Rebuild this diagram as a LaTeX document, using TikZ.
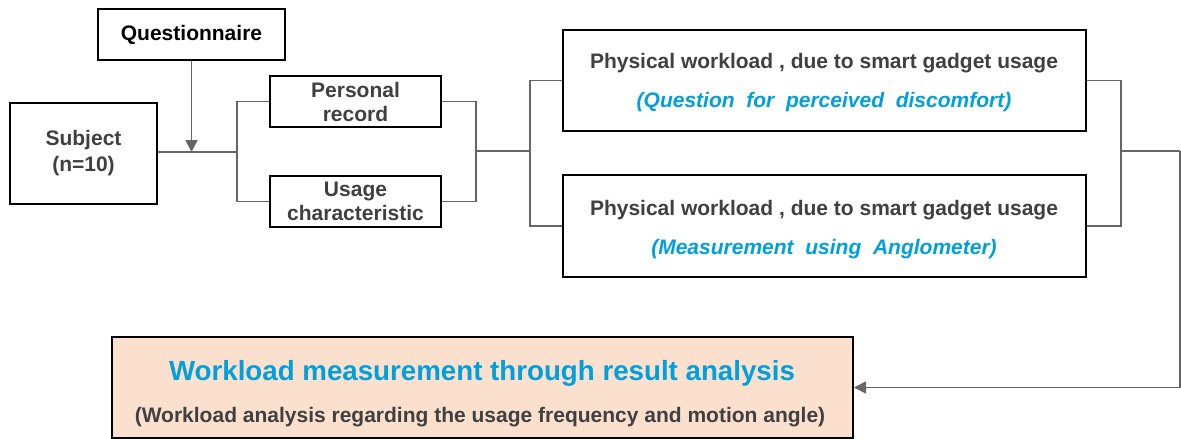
\documentclass[tikz,border=0pt]{standalone}
\usepackage{fontspec}
\setmainfont{Liberation Sans}
\usetikzlibrary{arrows.meta}
\definecolor{txtgray}{HTML}{404040}
\definecolor{linegray}{HTML}{666666}
\definecolor{ablue}{HTML}{00A0DC}
\definecolor{peach}{HTML}{FCE0CE}
\tikzset{
  box/.style={draw=black, line width=2pt, fill=white, align=center, inner sep=0pt,
    font=\fontsize{21}{25}\selectfont\bfseries, text=txtgray},
  conn/.style={draw=linegray, line width=1.8pt},
  arr/.style={conn, -{Triangle[length=12pt,width=12pt]}},
  bluetxt/.style={text=ablue, font=\fontsize{21}{25}\selectfont\bfseries\itshape},
}
\begin{document}
\begin{tikzpicture}[x=1pt,y=-1pt]
\useasboundingbox (0,0) rectangle (1181,439);
% boxes
\node[box, text=black, minimum width=187pt, minimum height=51pt] (quest) at (191.5,34.5) {Questionnaire};
\node[box, minimum width=147pt, minimum height=101pt, font=\fontsize{21}{26}\selectfont\bfseries] (subj) at (83.5,153.5) {Subject\\(n=10)};
\node[box, minimum width=171pt, minimum height=51pt, font=\fontsize{21}{24}\selectfont\bfseries] (pers) at (355.5,101.5) {Personal\\record};
\node[box, minimum width=171pt, minimum height=51pt, font=\fontsize{21}{24}\selectfont\bfseries] (usage) at (355.5,201.5) {Usage\\characteristic};
\node[box, minimum width=523pt, minimum height=101pt] (phys1) at (824.5,80.5) {};
\node[box, minimum width=523pt, minimum height=102pt] (phys2) at (824.5,226) {};
\node[box, fill=peach, minimum width=741pt, minimum height=101pt] (res) at (482.5,387.5) {};
% texts inside
\node[font=\fontsize{21}{25}\selectfont\bfseries, text=txtgray] (p1a) at (824,63) {Physical workload , due to smart gadget usage};
\node[bluetxt] (p1b) at (824,102) {(Question\ \ for\ \ perceived\ \ discomfort)};
\node[font=\fontsize{21}{25}\selectfont\bfseries, text=txtgray] (p2a) at (824,210) {Physical workload , due to smart gadget usage};
\node[bluetxt] (p2b) at (824,249) {(Measurement\ \ using\ \ Anglometer)};
\node[font=\fontsize{27.7}{30}\selectfont\bfseries, text=ablue] (rta) at (482,373) {Workload measurement through result analysis};
\node[font=\fontsize{21}{25}\selectfont\bfseries, text=txtgray] (rtb) at (480,417) {(Workload analysis regarding the usage frequency and motion angle)};
% coordinates
\coordinate (b1) at (237,152);
\coordinate (b2) at (476,151);
\coordinate (b3) at (530,151);
\coordinate (b4) at (1121,151);
\coordinate (edge) at (1180,151);
% connectors
\draw[conn] (subj.east |- b1) -- (b1);
\draw[arr] (quest.south) -- (quest.south |- b1);
\draw[conn] (pers.west) -| (b1) |- (usage.west);
\draw[conn] (pers.east) -| (b2) |- (usage.east);
\draw[conn] (b2) -- (b3);
\draw[conn] (phys1.west) -| (b3) |- (phys2.west);
\draw[conn] (phys1.east) -| (b4) |- (phys2.east);
\draw[conn] (b4) -- (edge);
\draw[arr] (edge) |- (res.east);
\end{tikzpicture}
\end{document}
